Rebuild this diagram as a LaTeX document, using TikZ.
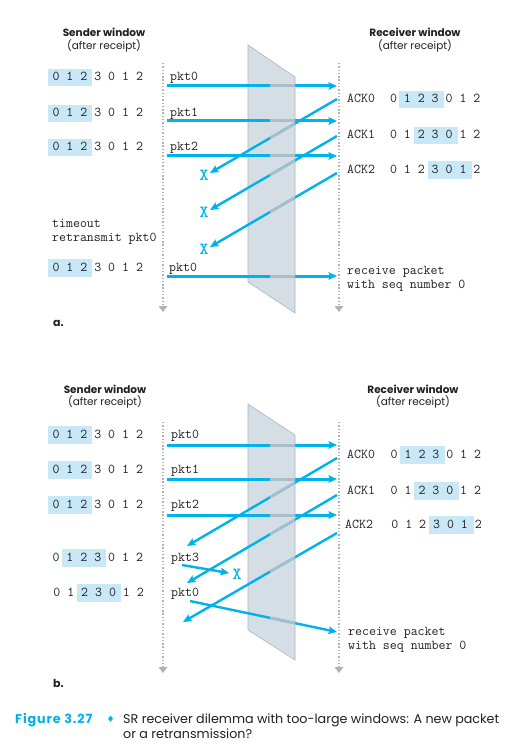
\documentclass[tikz,border=0pt]{standalone}
\usepackage{fontspec}
\setmainfont{Poppins}
\setsansfont{Poppins}
\newfontfamily\symfont{DejaVu Sans}
\usetikzlibrary{arrows.meta}
\definecolor{pcyan}{RGB}{0,178,236}
\definecolor{hlblue}{RGB}{200,232,248}
\definecolor{slabfill}{RGB}{214,222,229}
\definecolor{slabedge}{RGB}{170,182,193}
\definecolor{behindc}{RGB}{168,190,202}
\definecolor{dotgray}{RGB}{178,178,178}
\definecolor{ink}{RGB}{35,31,32}
\tikzset{
  mono/.style={font=\fontsize{13.5}{15}\selectfont\ttfamily, text=ink, inner sep=0pt, anchor=base west},
  xmark/.style={font=\fontsize{17}{18}\selectfont\ttfamily\bfseries, text=pcyan, inner sep=0pt},
  ttl/.style={font=\fontsize{10.5}{13}\selectfont\bfseries, text=ink, inner sep=0pt, anchor=base},
  sub/.style={font=\fontsize{10.5}{13}\selectfont, text=ink, inner sep=0pt, anchor=base},
  partlbl/.style={font=\fontsize{11}{13}\selectfont\bfseries, text=ink, inner sep=0pt, anchor=base west},
  timeline/.style={draw=dotgray, line width=1.6pt, dash pattern=on 1.4pt off 1.9pt, -{Triangle[length=6pt,width=8.5pt]}},
  slab/.style={fill=slabfill, draw=slabedge, line width=0.6pt},
  msg/.style={draw=pcyan, -{Stealth[length=8.5pt,width=7.5pt,inset=1.5pt]}},
  behindseg/.style={draw=behindc},
  captxt/.style={font=\fontsize{12.7}{14}\selectfont, text=ink, inner sep=0pt, anchor=base west},
}
\newcommand\sqwin[5]{%
  \fill[hlblue] ({#2+14.16*#4-4.5},{#3-12}) rectangle ({#2+14.16*#5+7.08+4.5},{#3+5.5});
  \node[mono] (#1) at (#2,#3) {0 1 2 3 0 1 2};}
\begin{document}
\begin{tikzpicture}[x=1pt,y=-1pt]
\useasboundingbox (0,0) rectangle (517,754);
% ---------- slabs ----------
\path[slab] (248,45) -- (295,77) -- (295,313) -- (248,282) -- cycle;
\path[slab] (248,404) -- (295,435) -- (295,660) -- (248,630) -- cycle;
% ---------- timelines ----------
\coordinate (a-st) at (163,63);  \coordinate (a-sb) at (163,312);
\coordinate (a-rt) at (339,63);  \coordinate (a-rb) at (339,312);
\coordinate (b-st) at (163,422); \coordinate (b-sb) at (163,673);
\coordinate (b-rt) at (339,422); \coordinate (b-rb) at (339,673);
\draw[timeline] (a-st) -- (a-sb);
\draw[timeline] (a-rt) -- (a-rb);
\draw[timeline] (b-st) -- (b-sb);
\draw[timeline] (b-rt) -- (b-rb);
% ---------- message end points ----------
\coordinate (a-p0s) at (167,86);  \coordinate (a-p0e) at (337,86);
\coordinate (a-p1s) at (167,121); \coordinate (a-p1e) at (337,121);
\coordinate (a-p2s) at (167,156); \coordinate (a-p2e) at (337,156);
\coordinate (a-p3s) at (167,276); \coordinate (a-p3e) at (337,276);
\coordinate (a-k0s) at (337,99);  \coordinate (a-k0e) at (210,173);
\coordinate (a-k1s) at (337,136); \coordinate (a-k1e) at (210,210);
\coordinate (a-k2s) at (337,173); \coordinate (a-k2e) at (210,247);
\coordinate (b-p0s) at (167,445); \coordinate (b-p0e) at (337,445);
\coordinate (b-p1s) at (167,479); \coordinate (b-p1e) at (337,479);
\coordinate (b-p2s) at (167,515); \coordinate (b-p2e) at (337,515);
\coordinate (b-k0s) at (337,458); \coordinate (b-k0e) at (187,546);
\coordinate (b-k1s) at (337,495); \coordinate (b-k1e) at (187,583);
\coordinate (b-k2s) at (337,533); \coordinate (b-k2e) at (183,622);
\coordinate (b-p3s) at (182,565); \coordinate (b-p3e) at (229,573);
\coordinate (b-p4s) at (190,601); \coordinate (b-p4e) at (337,632);
\def\msglist{a-p0s/a-p0e/3, a-p1s/a-p1e/3, a-p2s/a-p2e/3, a-p3s/a-p3e/3,
  a-k0s/a-k0e/2.4, a-k1s/a-k1e/2.4, a-k2s/a-k2e/2.4,
  b-p0s/b-p0e/3, b-p1s/b-p1e/3, b-p2s/b-p2e/3,
  b-k0s/b-k0e/2.4, b-k1s/b-k1e/2.4, b-k2s/b-k2e/2.4,
  b-p3s/b-p3e/2.4, b-p4s/b-p4e/2.4}
\foreach \s/\t/\w in \msglist { \draw[msg, line width=\w pt] (\s) -- (\t); }
\begin{scope}
  \clip (270,0) rectangle (295,754);
  \foreach \s/\t/\w in \msglist { \draw[behindseg, line width=\w pt] (\s) -- (\t); }
\end{scope}
% ---------- titles ----------
\node[ttl] (a-sttl) at (104,37) {Sender window};
\node[sub] (a-ssub) at (104,49.5) {(after receipt)};
\node[ttl] (a-rttl) at (415,37) {Receiver window};
\node[sub] (a-rsub) at (415,49.5) {(after receipt)};
\node[ttl] (b-sttl) at (105,393) {Sender window};
\node[sub] (b-ssub) at (105,405.5) {(after receipt)};
\node[ttl] (b-rttl) at (413,393) {Receiver window};
\node[sub] (b-rsub) at (413,405.5) {(after receipt)};
% ---------- part a sender ----------
\sqwin{a-w0}{52.4}{81}{0}{2}
\sqwin{a-w1}{52.4}{117}{0}{2}
\sqwin{a-w2}{52.4}{151}{0}{2}
\sqwin{a-w3}{52.4}{271}{0}{2}
\node[mono] (a-l0) at (170,81) {pkt0};
\node[mono] (a-l1) at (170,117) {pkt1};
\node[mono] (a-l2) at (170,151) {pkt2};
\node[mono] (a-l3) at (169,271) {pkt0};
\node[mono] (a-to1) at (52,227) {timeout};
\node[mono] (a-to2) at (52,241) {retransmit pkt0};
\node[xmark] (a-x0) at (204,175) {X};
\node[xmark] (a-x1) at (204,212) {X};
\node[xmark] (a-x2) at (204,249) {X};
% ---------- part a receiver ----------
\node[mono] (a-a0) at (347,103) {ACK0};
\node[mono] (a-a1) at (347,139) {ACK1};
\node[mono] (a-a2) at (347,173) {ACK2};
\sqwin{a-r0}{389.8}{103}{1}{3}
\sqwin{a-r1}{389.8}{139}{2}{4}
\sqwin{a-r2}{389.8}{173}{3}{5}
\node[mono] (a-rc1) at (347,274) {receive packet};
\node[mono] (a-rc2) at (347,288) {with seq number 0};
\node[partlbl] (a-lbl) at (53,326) {a.};
% ---------- part b sender ----------
\sqwin{b-w0}{52.4}{438}{0}{2}
\sqwin{b-w1}{52.4}{473}{0}{2}
\sqwin{b-w2}{52.4}{508}{0}{2}
\sqwin{b-w3}{52.4}{561}{1}{3}
\sqwin{b-w4}{53.2}{596}{2}{4}
\node[mono] (b-l0) at (171,438) {pkt0};
\node[mono] (b-l1) at (171,473) {pkt1};
\node[mono] (b-l2) at (171,508) {pkt2};
\node[mono] (b-l3) at (171,561) {pkt3};
\node[mono] (b-l4) at (171,596) {pkt0};
\node[xmark] (b-x) at (237,574) {X};
% ---------- part b receiver ----------
\node[mono] (b-a0) at (347,458) {ACK0};
\node[mono] (b-a1) at (347,494) {ACK1};
\node[mono] (b-a2) at (345,528) {ACK2};
\sqwin{b-r0}{390.5}{458}{1}{3}
\sqwin{b-r1}{390.5}{494}{2}{4}
\sqwin{b-r2}{391.2}{528}{3}{5}
\node[mono] (b-rc1) at (348,635) {receive packet};
\node[mono] (b-rc2) at (348,649) {with seq number 0};
\node[partlbl] (b-lbl) at (53,687) {b.};
% ---------- caption ----------
\node[font=\fontsize{12.7}{14}\selectfont\bfseries\addfontfeature{LetterSpace=7}, text=pcyan, inner sep=0pt, anchor=base west] (cap-fig) at (15,723) {Figure 3.27};
\node[font=\fontsize{9}{10}\selectfont\symfont, text=pcyan, inner sep=0pt, anchor=base west] (cap-dia) at (106.5,722) {♦};
\node[captxt] (cap-l1) at (123,723) {SR receiver dilemma with too-large windows: A new packet};
\node[captxt] (cap-l2) at (123,738) {or a retransmission?};
\end{tikzpicture}
\end{document}
